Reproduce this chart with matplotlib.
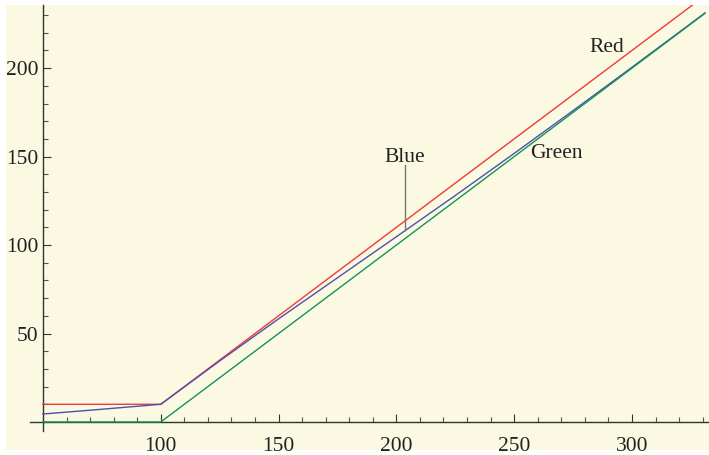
import matplotlib.pyplot as plt
from matplotlib.patches import Rectangle
from matplotlib.ticker import MultipleLocator

plt.rcParams['font.family'] = ['Liberation Serif', 'DejaVu Serif']

# data
red_x = [50, 100, 331]
red_y = [10, 10, 241]
green_x = [50, 100, 331]
green_y = [0, 0, 231]
blue_x = [50, 75, 100, 125, 150, 175, 200, 225, 250, 275, 300, 331]
blue_y = [4.5, 7.2, 10, 34.5, 58.3, 81.5, 104.7, 128, 151.8, 176, 200.5, 231.2]

labels = ['Red', 'Green', 'Blue']
label_xy = [(289.4, 211.5), (268, 152), (203.6, 149.5)]
blue_arrow = [(203.6, 145), (203.6, 108.3)]

bg = '#fbf9e1'
axis_col = '#333333'

fig = plt.figure(figsize=(7.09, 4.55), dpi=100, facecolor='white')
fig.add_artist(Rectangle((6/709, 5/455), 703/709, 445/455,
                         transform=fig.transFigure, facecolor=bg,
                         edgecolor='none', zorder=-10))
ax = fig.add_axes([30/709, 24/455, 679/709, 426/455])
ax.set_facecolor('none')

ax.plot(red_x, red_y, color='#f03a3a', lw=1.0, zorder=3)
ax.plot(blue_x, blue_y, color='#4f4fb0', lw=1.0, zorder=3)
ax.plot(green_x, green_y, color='#11945a', lw=1.0, zorder=3)

ax.set_xlim(44.5, 332.7)
ax.set_ylim(-5.1, 235.7)

for s in ['top', 'right']:
    ax.spines[s].set_visible(False)
ax.spines['left'].set_position(('data', 50))
ax.spines['bottom'].set_position(('data', 0))
for s in ['left', 'bottom']:
    ax.spines[s].set_color(axis_col)
    ax.spines[s].set_linewidth(1.0)

ax.xaxis.set_major_locator(MultipleLocator(50))
ax.xaxis.set_minor_locator(MultipleLocator(10))
ax.yaxis.set_major_locator(MultipleLocator(50))
ax.yaxis.set_minor_locator(MultipleLocator(10))
ax.set_xticks([100, 150, 200, 250, 300])
ax.set_yticks([50, 100, 150, 200])
ax.tick_params(which='major', direction='in', length=6, width=0.8,
               color=axis_col, labelsize=15.5, labelcolor='#222222')
ax.tick_params(which='minor', direction='in', length=3.5, width=0.8,
               color='#555555')
ax.tick_params(axis='x', which='major', pad=10.5)
ax.tick_params(axis='y', which='major', pad=3.5)

for name, (tx, ty) in zip(labels, label_xy):
    ax.text(tx, ty, name, fontsize=15.5, color='#222222',
            ha='center', va='center', zorder=4)
ax.plot([p[0] for p in blue_arrow], [p[1] for p in blue_arrow],
        color='#777777', lw=1.0, zorder=4)

fig.savefig('out.png', dpi=100, facecolor=fig.get_facecolor())
